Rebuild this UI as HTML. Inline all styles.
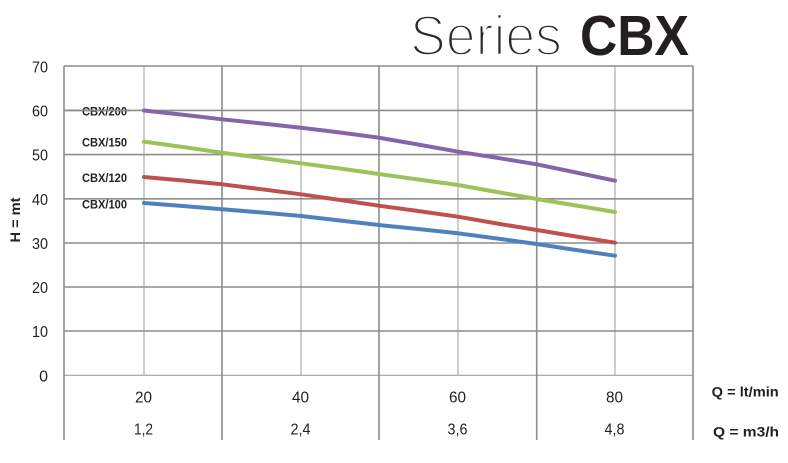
<!DOCTYPE html>
<html>
<head>
<meta charset="utf-8">
<style>
html,body{margin:0;padding:0;background:#fff;}
svg{display:block;}
text{font-family:"Liberation Sans",Arial,sans-serif;}
</style>
</head>
<body>
<svg width="788" height="463" viewBox="0 0 788 463" xmlns="http://www.w3.org/2000/svg">
<rect width="788" height="463" fill="#fff"/>
<!-- Title -->
<text x="410" y="55" font-size="57" fill="#2a2a2a" stroke="#fff" stroke-width="2.6" textLength="152" lengthAdjust="spacingAndGlyphs">Series</text>
<text x="580" y="55" font-size="57" font-weight="bold" fill="#231f20" textLength="109" lengthAdjust="spacingAndGlyphs">CBX</text>

<!-- light vertical grid -->
<g stroke="#bdbdbd" stroke-width="1.5">
<line x1="144" y1="66" x2="144" y2="375"/>
<line x1="301" y1="66" x2="301" y2="375"/>
<line x1="458" y1="66" x2="458" y2="375"/>
<line x1="615" y1="66" x2="615" y2="375"/>
</g>
<!-- horizontal grid -->
<g stroke="#8c8c8c" stroke-width="1.6">
<line x1="64" y1="66" x2="693" y2="66"/>
<line x1="64" y1="110.4" x2="693" y2="110.4"/>
<line x1="64" y1="154.6" x2="693" y2="154.6"/>
<line x1="64" y1="198.8" x2="693" y2="198.8"/>
<line x1="64" y1="243" x2="693" y2="243"/>
<line x1="64" y1="287" x2="693" y2="287"/>
<line x1="64" y1="331" x2="693" y2="331"/>
</g>
<line x1="64" y1="375.3" x2="693" y2="375.3" stroke="#a0a0a0" stroke-width="1.2"/>
<!-- dark vertical grid -->
<g stroke="#8c8c8c" stroke-width="1.6">
<line x1="64" y1="66" x2="64" y2="440"/>
<line x1="222" y1="66" x2="222" y2="440"/>
<line x1="379" y1="66" x2="379" y2="440"/>
<line x1="536.7" y1="66" x2="536.7" y2="440"/>
<line x1="693" y1="66" x2="693" y2="440"/>
</g>

<!-- Y tick labels -->
<g font-size="16" fill="#222" text-anchor="end">
<text x="48" y="72.5" textLength="16" lengthAdjust="spacingAndGlyphs">70</text>
<text x="48" y="116.5" textLength="16" lengthAdjust="spacingAndGlyphs">60</text>
<text x="48" y="160.7" textLength="16" lengthAdjust="spacingAndGlyphs">50</text>
<text x="48" y="204.8" textLength="16" lengthAdjust="spacingAndGlyphs">40</text>
<text x="48" y="249" textLength="16" lengthAdjust="spacingAndGlyphs">30</text>
<text x="48" y="293" textLength="16" lengthAdjust="spacingAndGlyphs">20</text>
<text x="48" y="337" textLength="16" lengthAdjust="spacingAndGlyphs">10</text>
<text x="48" y="381.5">0</text>
</g>

<!-- Y axis title -->
<text transform="translate(20,220) rotate(-90)" text-anchor="middle" font-size="14" font-weight="bold" fill="#222" textLength="45" lengthAdjust="spacingAndGlyphs">H = mt</text>

<!-- X tick labels -->
<g font-size="16" fill="#222" text-anchor="middle">
<text x="143.5" y="402.7" textLength="17" lengthAdjust="spacingAndGlyphs">20</text>
<text x="300.5" y="402.7" textLength="17" lengthAdjust="spacingAndGlyphs">40</text>
<text x="457.5" y="402.7" textLength="17" lengthAdjust="spacingAndGlyphs">60</text>
<text x="614.5" y="402.7" textLength="17" lengthAdjust="spacingAndGlyphs">80</text>
<text x="143.5" y="434.5" textLength="19" lengthAdjust="spacingAndGlyphs">1,2</text>
<text x="300.5" y="434.5" textLength="20" lengthAdjust="spacingAndGlyphs">2,4</text>
<text x="457.5" y="434.5" textLength="20" lengthAdjust="spacingAndGlyphs">3,6</text>
<text x="614.5" y="434.5" textLength="20" lengthAdjust="spacingAndGlyphs">4,8</text>
</g>
<g font-size="14" font-weight="bold" fill="#222">
<text x="711.7" y="396.7" textLength="67" lengthAdjust="spacingAndGlyphs">Q = lt/min</text>
<text x="713" y="436.5" textLength="66" lengthAdjust="spacingAndGlyphs">Q = m3/h</text>
</g>

<!-- curve labels -->
<g font-size="12" font-weight="bold" fill="#222">
<text x="82" y="115.5" textLength="45" lengthAdjust="spacingAndGlyphs">CBX/200</text>
<text x="82" y="146.5" textLength="45" lengthAdjust="spacingAndGlyphs">CBX/150</text>
<text x="82" y="182" textLength="45" lengthAdjust="spacingAndGlyphs">CBX/120</text>
<text x="82" y="208.5" textLength="45" lengthAdjust="spacingAndGlyphs">CBX/100</text>
</g>
<line x1="64" y1="110.4" x2="130" y2="110.4" stroke="#8c8c8c" stroke-width="1.6"/>

<!-- curves -->
<g fill="none" stroke-width="4" stroke-linecap="round" stroke-linejoin="round">
<polyline stroke="#8466a8" points="144,110.5 183,114.8 222,119.3 262,123.5 301,127.7 340,132.5 379,137.7 418,144.5 458,151.7 497,157.8 536.7,164.3 576,172.5 615,180.7"/>
<polyline stroke="#9bc35a" points="144,141.6 183,147 222,152.7 262,158 301,163.3 340,168.5 379,174 418,179.5 458,185 497,192 536.7,199 576,205.5 615,212"/>
<polyline stroke="#c0504d" points="144,177 183,180.5 222,184.3 262,189.3 301,194.3 340,200 379,205.7 418,211 458,216.7 497,223.5 536.7,230 576,236.5 615,242.7"/>
<polyline stroke="#4f81bd" points="144,203 183,206 222,209.3 262,212.5 301,216 340,220.5 379,225 418,229 458,233.3 497,238.5 536.7,244 576,250 615,255.7"/>
</g>
</svg>
</body>
</html>
